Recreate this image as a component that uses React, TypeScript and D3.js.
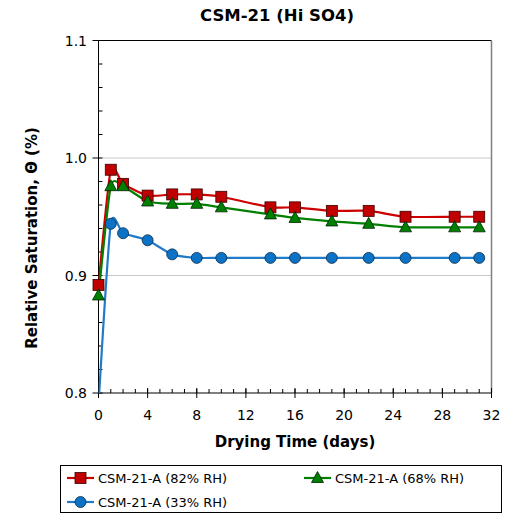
import React from "react";
import * as d3 from "d3";

const days = [0, 1, 2, 4, 6, 8, 10, 14, 16, 19, 22, 25, 29, 31];
const rh82 = [0.892, 0.990, 0.978, 0.968, 0.969, 0.969, 0.967, 0.958, 0.958, 0.955, 0.955, 0.950, 0.950, 0.950];
const rh68 = [0.883, 0.976, 0.976, 0.963, 0.961, 0.961, 0.958, 0.952, 0.949, 0.946, 0.944, 0.941, 0.941, 0.941];
const rh33 = [0.79, 0.944, 0.936, 0.930, 0.918, 0.915, 0.915, 0.915, 0.915, 0.915, 0.915, 0.915, 0.915, 0.915];
const xTicks = [0, 4, 8, 12, 16, 20, 24, 28, 32];
const yTicks = [0.8, 0.9, 1.0, 1.1];
const seriesNames = ["CSM-21-A (82% RH)", "CSM-21-A (68% RH)", "CSM-21-A (33% RH)"];

const W = 508, H = 515;
const left = 98.5, right = 491.5, top = 40.5, bottom = 393;
const font = "Tahoma, 'DejaVu Sans', Verdana, sans-serif";

type Kind = "square" | "triangle" | "circle";
const series: { name: string; values: number[]; line: string; fill: string; stroke: string; kind: Kind }[] = [
  { name: seriesNames[0], values: rh82, line: "#CC0000", fill: "#C00000", stroke: "#3a0000", kind: "square" },
  { name: seriesNames[1], values: rh68, line: "#008000", fill: "#008000", stroke: "#002000", kind: "triangle" },
  { name: seriesNames[2], values: rh33, line: "#1F7BC8", fill: "#0B72C6", stroke: "#0b2d4a", kind: "circle" },
];

function Marker({ kind, x, y, fill, stroke }: { kind: Kind; x: number; y: number; fill: string; stroke: string }) {
  if (kind === "square") return <rect x={x - 5.5} y={y - 5.5} width={11} height={11} fill={fill} stroke={stroke} strokeWidth={0.8} />;
  if (kind === "triangle")
    return <path d={`M${x},${y - 6.5}L${x + 6},${y + 4.5}L${x - 6},${y + 4.5}Z`} fill={fill} stroke={stroke} strokeWidth={0.8} />;
  return <circle cx={x} cy={y} r={5.5} fill={fill} stroke={stroke} strokeWidth={0.8} />;
}

export default function App() {
  const x = d3.scaleLinear().domain([0, 32]).range([left, right]);
  const y = d3.scaleLinear().domain([0.8, 1.1]).range([bottom, top]);
  const line = d3
    .line<number>()
    .x((_, i) => x(days[i]))
    .y((v) => y(v))
    .curve(d3.curveCardinal.tension(0.4));
  const minorY = d3.range(0.8, 1.1001, 0.02);
  const minorX = d3.range(0, 33, 1);

  const legendRows = [
    { s: series[0], lx: 67, ty: 478 },
    { s: series[1], lx: 304, ty: 478 },
    { s: series[2], lx: 67, ty: 502 },
  ];

  return (
    <svg width={W} height={H} style={{ position: "absolute", left: 0, top: 0, background: "#fff" }} fontFamily={font}>
      <defs>
        <clipPath id="plotclip">
          <rect x={left} y={top} width={right - left} height={bottom - top} />
        </clipPath>
      </defs>
      <rect x={0} y={0} width={W} height={H} fill="#fff" />
      {/* title */}
      <text x={277} y={21} textAnchor="middle" fontSize={16.5} fontWeight="bold" fill="#000">
        CSM-21 (Hi SO4)
      </text>
      {/* gridlines */}
      {[0.9, 1.0].map((v) => (
        <line key={v} x1={left} x2={right} y1={y(v)} y2={y(v)} stroke="#c8c8c8" strokeWidth={1} />
      ))}
      {/* plot border top/right */}
      <line x1={left} x2={right} y1={top} y2={top} stroke="#000" strokeWidth={1} />
      <line x1={right} x2={right} y1={top} y2={bottom} stroke="#808080" strokeWidth={1.5} />
      {/* y axis */}
      <line x1={left} x2={left} y1={top} y2={bottom} stroke="#000" strokeWidth={1} />
      {minorY.map((v, i) => (
        <line key={"my" + i} x1={left} x2={left + 4} y1={y(v)} y2={y(v)} stroke="#000" strokeWidth={1} />
      ))}
      {yTicks.map((v) => (
        <g key={"y" + v}>
          <line x1={left - 6} x2={left} y1={y(v)} y2={y(v)} stroke="#000" strokeWidth={1} />
          <text x={87} y={y(v) + 5} textAnchor="end" fontSize={14} fill="#000">
            {v.toFixed(1)}
          </text>
        </g>
      ))}
      {/* x axis */}
      <line x1={left} x2={right} y1={bottom} y2={bottom} stroke="#000" strokeWidth={1} />
      {minorX.map((v) => (
        <line key={"mx" + v} x1={x(v)} x2={x(v)} y1={bottom - 4} y2={bottom} stroke="#000" strokeWidth={1} />
      ))}
      {xTicks.map((v) => (
        <g key={"x" + v}>
          <line x1={x(v)} x2={x(v)} y1={bottom - 5} y2={bottom + 5} stroke="#000" strokeWidth={1} />
          <text x={x(v)} y={bottom + 27} textAnchor="middle" fontSize={14} fill="#000">
            {v}
          </text>
        </g>
      ))}
      {/* axis titles */}
      <text x={295} y={447} textAnchor="middle" fontSize={15} fontWeight="bold" fill="#000">
        Drying Time (days)
      </text>
      <text
        transform={`translate(37,238) rotate(-90)`}
        textAnchor="middle"
        fontSize={15}
        fontWeight="bold"
        fill="#000"
      >
        Relative Saturation, Θ (%)
      </text>
      {/* series lines */}
      <g clipPath="url(#plotclip)">
        {series.map((s) => (
          <path key={s.name} d={line(s.values) || ""} fill="none" stroke={s.line} strokeWidth={2.2} />
        ))}
      </g>
      {/* markers */}
      {series.map((s) =>
        s.values.map((v, i) =>
          v >= 0.8 ? <Marker key={s.name + i} kind={s.kind} x={x(days[i])} y={y(v)} fill={s.fill} stroke={s.stroke} /> : null
        )
      )}
      {/* legend */}
      <rect x={60.5} y={465.5} width={441} height={47} fill="#fff" stroke="#000" strokeWidth={1} />
      {legendRows.map(({ s, lx, ty }) => (
        <g key={"lg" + s.name}>
          <line x1={lx} x2={lx + 27} y1={ty} y2={ty} stroke={s.line} strokeWidth={2.2} />
          <Marker kind={s.kind} x={lx + 13.5} y={ty} fill={s.fill} stroke={s.stroke} />
          <text x={lx + 31} y={ty + 5} fontSize={13} fill="#000">
            {s.name}
          </text>
        </g>
      ))}
    </svg>
  );
}
